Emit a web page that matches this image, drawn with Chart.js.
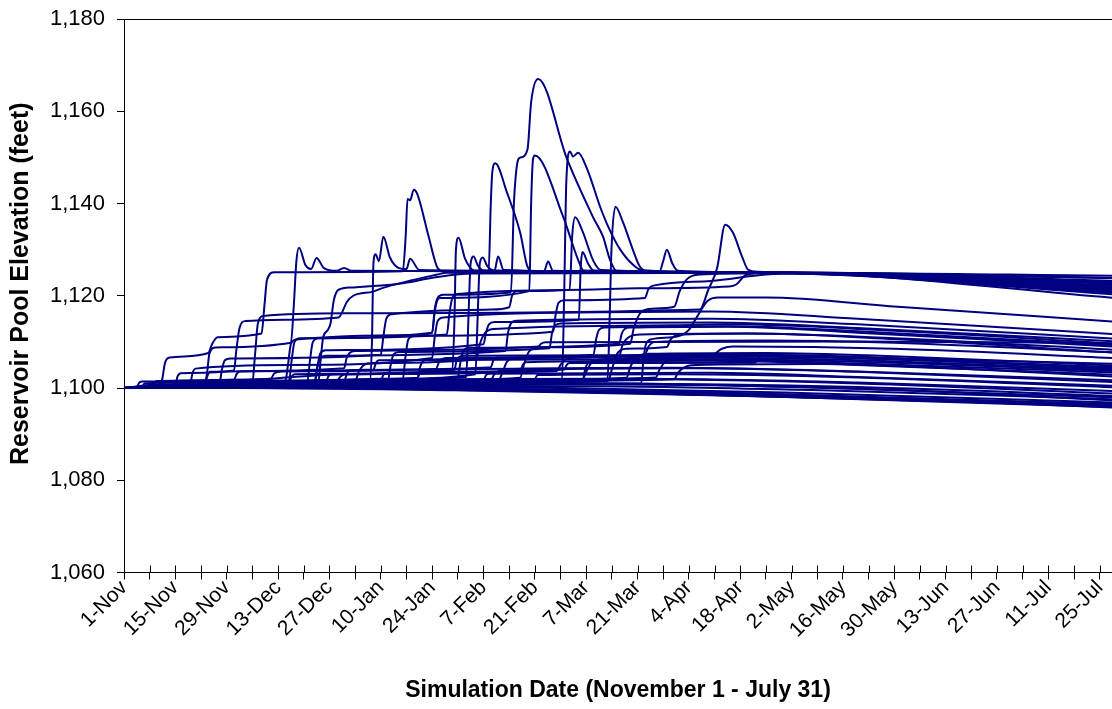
<!DOCTYPE html>
<html>
<head>
<meta charset="utf-8">
<script src="https://cdn.jsdelivr.net/npm/chart.js@4.4.1/dist/chart.umd.min.js"></script>
<style>
  html, body { margin: 0; padding: 0; background: #ffffff; overflow: hidden; }
  #wrap { position: relative; width: 1112px; height: 709px; }
</style>
</head>
<body>
<div id="wrap"><canvas id="c"></canvas></div>
<script>
// ---- tick labels (every 14 days starting 1-Nov) ----
const xTickLabels = ['1-Nov','15-Nov','29-Nov','13-Dec','27-Dec','10-Jan','24-Jan','7-Feb','21-Feb','7-Mar',
  '21-Mar','4-Apr','18-Apr','2-May','16-May','30-May','13-Jun','27-Jun','11-Jul','25-Jul'];
const yTickValues = [1060, 1080, 1100, 1120, 1140, 1160, 1180];

// ---- series: [day since 1-Nov, elevation ft] ----
// reaching full pool (~1125)
const f01 = [[0,1100],[9,1100.6],[10.3,1101.5],[11.2,1105.5],[12.5,1106.6],[23,1107.6],[24,1109.5],[25.5,1111],[37.5,1111.8],[38.3,1118],[39,1123.5],[41,1125.1],[76,1125.3],[76.8,1133],[77.3,1141],[78,1140.7],[79,1143],[80,1142],[83,1133],[85.5,1126],[87,1125.3],[175,1125.1],[272,1123.2]];
const f02 = [[0,1100],[10,1100.8],[22,1101.4],[22.6,1103],[23.3,1107.5],[25,1108.8],[45.5,1109.8],[46.3,1118],[47,1127.5],[47.7,1130.4],[49.5,1126.6],[51,1125.8],[52.5,1128.2],[54.5,1126],[58,1125.4],[60,1126],[62,1125.4],[99.4,1125.3],[100,1140],[100.4,1146.7],[101.2,1148.7],[104.4,1142.4],[108,1133.7],[110,1126.3],[111.5,1125.3],[175,1125],[272,1121.5]];
const f03 = [[0,1100],[30,1100.5],[67,1101.3],[67.6,1110],[68,1127],[68.6,1129],[69.5,1127.5],[70.7,1132.8],[72.5,1128.3],[75,1126],[77,1125.8],[78,1128],[80.5,1125.6],[146,1125.3],[147,1127.5],[148,1130],[149.5,1127],[151,1125.4],[178,1125],[272,1119.4]];
const f04 = [[0,1100],[20,1100.8],[40,1102],[60,1103],[89.5,1103.6],[90.1,1115],[90.5,1130],[91.2,1132.6],[93,1128],[95.5,1125.5],[101,1125.4],[102,1128.5],[103.5,1125.6],[175,1125],[272,1122.5]];
const f05 = [[0,1100],[30,1100.6],[60,1101.8],[93.3,1102.4],[93.9,1115],[94.5,1127],[95.3,1128.5],[96.5,1126.5],[98,1125.5],[114.5,1125.3],[115.6,1127.4],[117,1125.4],[175,1125.1],[272,1123.8]];
const f06 = [[0,1100],[40,1100.8],[70,1102],[95.8,1103],[96.4,1115],[97,1127],[97.8,1128.3],[99,1126.5],[101,1125.5],[175,1125],[272,1122.8]];
const f08 = [[0,1100],[25,1100.8],[45,1101.6],[45.7,1106],[46.5,1110],[48,1110.8],[84,1112],[84.7,1117],[85.5,1119.5],[87,1120.2],[105.5,1120.7],[106.3,1140],[106.8,1146],[107.5,1149.6],[108.2,1150],[110,1151.7],[111,1162],[112.9,1167],[120.8,1149.6],[127.9,1137],[130.6,1132.8],[132.5,1127.8],[134.4,1125.3],[140,1125.1],[175,1125],[272,1120.2]];
const f09 = [[0,1100],[15,1100.5],[44,1101.5],[44.7,1105],[45.5,1109.5],[47,1110.5],[80,1111.5],[84,1112],[84.8,1117],[86,1119.5],[110.5,1121],[111,1140],[111.5,1149.5],[112,1150.4],[119.7,1137.2],[123.8,1127.8],[125.3,1125.5],[175,1125],[272,1121]];
const f10 = [[0,1100],[30,1100.4],[60,1100.9],[100,1101.3],[119.4,1101.5],[120,1120],[120.6,1145],[121.6,1151.3],[122.4,1150.2],[123.8,1151],[126.3,1147.4],[129.8,1139.3],[132,1135],[135.3,1130],[139.4,1126.3],[142,1125.4],[178,1125],[272,1122.2]];
const f11 = [[0,1100],[12,1100.5],[26,1101],[26.7,1104],[27.5,1106],[29,1106.4],[70,1107.2],[70.7,1111],[71.5,1115],[73,1116],[100,1117],[105,1117.5],[105.8,1120],[107,1121],[121.5,1121.3],[122.2,1133],[123,1137],[125,1134],[128,1127.5],[130,1125.6],[175,1125],[272,1120.8]];
const f12 = [[0,1100],[25,1100.6],[52,1101.2],[52.7,1104.5],[53.5,1107.5],[55,1108.2],[98,1109.5],[98.7,1112],[99.5,1113.8],[101,1114.3],[124,1114.8],[124.5,1126],[125,1129.5],[126.5,1127],[128,1125.5],[175,1125],[272,1121.7]];
const f13 = [[0,1100],[40,1100.6],[100,1101.2],[131.8,1101.5],[132.4,1115],[132.9,1130],[134,1139.3],[136,1136],[138.5,1130.5],[140.5,1126.5],[142,1125.5],[178,1125],[272,1123]];
const f14 = [[0,1100],[20,1100.6],[35,1101.2],[35.7,1107],[36.5,1114],[38,1115.6],[60,1116.2],[157,1117],[159.3,1121.3],[161.7,1126],[163.9,1135.4],[166,1133.7],[168.5,1128.5],[170.2,1125.6],[173,1125.2],[185,1125],[272,1122]];
const f15 = [[0,1100],[14,1100.6],[14.6,1102.5],[15.5,1103.2],[30,1103.8],[30.6,1108],[31.5,1113],[33,1114.5],[58.5,1115.3],[60.8,1118.7],[62.5,1120],[67.9,1120.9],[70.6,1121.7],[85.4,1124.6],[88,1125],[178,1125],[272,1123.8]];
const f16 = [[0,1100],[20,1100.5],[53,1101.2],[53.6,1106],[54.3,1111],[55.5,1112.5],[56.3,1114],[57.2,1119],[58.5,1121.3],[62,1121.8],[75,1122.6],[85,1124],[95,1124.8],[180,1125],[272,1124.3]];
const f17 = [[0,1100],[32,1100.8],[50,1101.4],[50.7,1106],[51.5,1110],[53,1110.8],[88,1111.6],[88.7,1116],[89.5,1119.5],[91,1120.4],[125,1121.3],[140,1121.6],[165,1122],[167,1122.5],[169.5,1124.5],[175,1125],[190,1124.9],[272,1121.2]];
const f18 = [[0,1100],[38,1100.8],[76,1101.8],[76.7,1106.5],[77.5,1110.5],[79,1111.3],[117,1112.2],[117.7,1116],[118.5,1118.5],[120,1119],[142,1119.5],[143,1121.5],[145,1122.3],[160,1123.2],[175,1124.6],[185,1124.8],[272,1122.8]];
const f19 = [[0,1100],[20,1100.6],[75,1101.6],[108,1102.2],[109,1105],[110.5,1108],[113,1108.8],[138,1109.6],[139,1113],[141,1116.5],[144,1117.2],[150,1117.6],[151.5,1121],[153.5,1123.6],[157,1124.6],[175,1124.9],[272,1120.6]];
// middle levels
const m01 = [[0,1100],[45,1100.6],[100,1100.9],[141,1101],[141.6,1106],[142.3,1109.5],[144,1110.6],[151,1111.2],[154,1112.6],[156.5,1115.8],[159,1118.8],[162,1119.6],[175,1119.6],[211,1117.6],[272,1114.3]];
const m02 = [[0,1100],[18,1100.6],[18.6,1103],[19.5,1104.2],[45,1105],[84,1106.5],[84.7,1111],[85.5,1114.5],[87,1115.3],[130,1116.4],[160,1116.6],[200,1115],[272,1111.6]];
const m03 = [[0,1100],[28,1100.7],[52,1101.4],[52.7,1104.5],[53.5,1106.5],[55,1107],[104,1108],[104.7,1112],[105.5,1114],[107,1114.6],[160,1115],[200,1113.8],[272,1110.6]];
const m04 = [[0,1100],[35,1100.8],[72,1101.8],[72.7,1105],[73.5,1107.3],[75,1107.8],[116,1108.6],[116.7,1112],[117.5,1113.5],[119,1114],[160,1114.2],[200,1113],[272,1110]];
const m05 = [[0,1100],[40,1100.9],[80,1102],[80.7,1104.5],[81.5,1105.8],[83,1106.2],[128,1107.2],[128.7,1110.5],[129.5,1112.6],[131,1113.1],[165,1113.4],[200,1112.3],[272,1109.2]];
const m06 = [[0,1100],[45,1101],[91,1102.2],[91.7,1105.5],[92.5,1108],[94,1108.7],[135,1109.6],[135.7,1111.8],[136.5,1112.8],[138,1113.1],[165,1113.3],[200,1112],[272,1108.9]];
const m07 = [[0,1100],[22,1100.6],[22.7,1102.5],[23.5,1103.5],[60,1104.3],[60.7,1106.5],[61.5,1107.6],[63,1108],[113,1109],[113.7,1109.6],[115,1109.9],[200,1110.1],[272,1109.7]];
const m08 = [[0,1100],[20,1100.4],[60,1101],[132,1101.6],[133,1104],[134.5,1107.5],[137,1108.5],[148,1108.9],[149,1110.5],[151,1111.5],[170,1111.8],[210,1110.8],[272,1108.2]];
const m09 = [[0,1100],[8,1100.5],[8.8,1101.5],[40,1102],[41,1103.2],[43,1103.6],[85,1104.1],[86,1105.8],[88,1106.5],[135,1107],[136,1109.5],[138,1111.2],[141,1111.6],[170,1111.8],[210,1110.6],[272,1107.6]];
const m10 = [[0,1100],[35,1100.8],[63,1101.5],[64,1103.5],[65.5,1105],[68,1105.4],[96,1106.2],[97,1109.5],[98.5,1112],[101,1112.8],[150,1113.6],[165,1113.8],[210,1112.4],[272,1109.5]];
const m11 = [[0,1100],[42,1100.7],[102,1101.5],[103,1103],[104.5,1105.8],[107,1106.5],[142,1107.2],[143,1109],[145,1110],[175,1110.3],[210,1109.8],[272,1107.6]];
// low levels
const l01 = [[0,1100],[15,1100.5],[45,1101.2],[45.7,1102.5],[46.5,1103],[90,1103.8],[90.7,1106],[91.5,1106.8],[93,1107],[165,1107.2],[200,1106.6],[272,1105.2]];
const l02 = [[0,1100],[20,1100.6],[60,1101.3],[60.7,1103],[61.5,1103.8],[100,1104.5],[100.7,1106],[101.5,1106.6],[170,1107],[174,1107.2],[200,1106.5],[272,1104.5]];
const l03 = [[0,1100],[25,1100.6],[70,1101.5],[70.7,1102.8],[71.5,1103.3],[120,1104],[120.7,1105],[121.5,1105.4],[172,1105.5],[173.5,1106.8],[176,1107.1],[200,1106.8],[272,1104.2]];
const l04 = [[0,1100],[30,1100.7],[55,1101.3],[55.7,1102.5],[56.5,1103],[108,1103.6],[108.7,1105],[109.5,1105.6],[160,1105.9],[200,1105],[272,1102.8]];
const l05 = [[0,1100],[10,1100.5],[10.6,1101.2],[40,1101.6],[80,1102.2],[80.7,1103.3],[81.5,1103.8],[150,1104.4],[200,1103.6],[272,1101.6]];
const l06 = [[0,1100],[35,1100.7],[98,1101.7],[98.7,1102.8],[99.5,1103.1],[160,1103.3],[200,1102.4],[272,1100.4]];
const l07 = [[0,1100],[5,1100.4],[5.6,1101],[50,1101.5],[140,1102],[200,1101.2],[272,1099.3]];
const l08 = [[0,1100],[65,1100.8],[65.7,1101.6],[130,1102],[200,1101],[272,1098.7]];
const l09 = [[0,1100],[28,1100.6],[28.6,1101.4],[112,1101.9],[112.7,1102.8],[150,1103],[200,1102.3],[272,1100.1]];
const l10 = [[0,1100],[50,1100.9],[125,1101.4],[125.7,1104],[126.5,1105.4],[128,1105.8],[165,1106],[200,1105.3],[272,1103.3]];
const l11 = [[0,1100],[3.5,1100.3],[4.2,1101.2],[5,1101.4],[30,1101.8],[30.7,1103],[31.5,1103.6],[68,1104],[68.7,1105.5],[69.5,1106],[150,1106.3],[200,1105.7],[272,1103.6]];
const l12 = [[0,1100],[30,1100.5],[70,1101.2],[125,1101.8],[126,1103.5],[127.5,1105.5],[130,1106.2],[150,1106.6],[200,1106],[272,1103.8]];
const l13 = [[0,1100],[40,1100.6],[90,1101.4],[137,1102.2],[138,1104.5],[140,1106.8],[143,1107.4],[175,1107.6],[210,1106.9],[272,1104.8]];
const l14 = [[0,1100],[25,1100.5],[80,1101.5],[145,1102.3],[146,1104],[148,1106],[151,1106.8],[160,1107],[163,1108.5],[166,1109],[210,1108.5],[272,1106.4]];
const l15 = [[0,1100],[15,1100.3],[15.8,1101],[58,1101.5],[59,1102.5],[60.5,1103],[118,1103.7],[119,1105],[120.5,1106.2],[124,1106.6],[155,1106.9],[210,1106.2],[272,1104.1]];
const l16 = [[0,1100],[48,1100.7],[110,1101.5],[150,1101.9],[151,1103.3],[153,1104.6],[156,1105],[190,1105.2],[230,1104.1],[272,1102.4]];
const l17 = [[0,1100],[55,1100.9],[100,1101.7],[101,1103],[103,1103.8],[155,1104.3],[200,1103.5],[272,1101.2]];
const l18 = [[0,1100],[18,1100.3],[50,1100.6],[130,1100.9],[200,1100.2],[272,1098.2]];
// bottom (dry) traces
const b01 = [[0,1100],[40,1100.2],[100,1099.7],[160,1098.8],[272,1096.2]];
const b02 = [[0,1100],[50,1100.1],[110,1099.4],[170,1098.3],[272,1095.8]];
const b03 = [[0,1100],[60,1100.3],[120,1100],[180,1099],[272,1096.8]];
const b04 = [[0,1100],[30,1100],[90,1099.5],[150,1098.6],[272,1096.5]];
const b05 = [[0,1100],[70,1100.5],[130,1100.4],[190,1099.5],[272,1097.5]];
const b06 = [[0,1100],[45,1100.3],[85,1100.6],[85.7,1101.2],[140,1101],[200,1099.8],[272,1097.9]];
const b07 = [[0,1100],[20,1100.1],[75,1099.8],[140,1098.9],[272,1096]];
const b08 = [[0,1100],[35,1100.2],[105,1100.4],[105.7,1101],[160,1100.6],[210,1099.6],[272,1097.2]];
const b09 = [[0,1100],[25,1100.1],[90,1099.9],[160,1099.1],[272,1096.4]];
const b10 = [[0,1100],[60,1100.2],[120,1099.6],[180,1098.6],[272,1095.7]];

const allSeries = [b01,b02,b03,b04,b05,b06,b07,b08,b09,b10,
  l01,l02,l03,l04,l05,l06,l07,l08,l09,l10,l11,l12,l13,l14,l15,l16,l17,l18,
  m01,m02,m03,m04,m05,m06,m07,m08,m09,m10,m11,
  f01,f02,f03,f04,f05,f06,f08,f09,f10,f11,f12,f13,f14,f15,f16,f17,f18,f19];

const FONT = "'Liberation Sans', Arial, sans-serif";
const dayTicks = [];
for (let i = 0; i < xTickLabels.length * 2 - 1; i++) dayTicks.push(i * 7);

const datasets = allSeries.map((s, i) => ({
  label: 'Trace ' + (i + 1),
  data: s.map(p => ({ x: p[0], y: p[1] })),
  borderColor: '#000080',
  borderWidth: 2,
  pointRadius: 0,
  fill: false,
  cubicInterpolationMode: 'monotone'
}));

const framePlugin = {
  id: 'frame',
  afterDatasetsDraw(chart) {
    const { ctx, chartArea: a, scales: { x } } = chart;
    ctx.save();
    ctx.strokeStyle = '#000';
    ctx.lineWidth = 1;
    ctx.beginPath();
    ctx.moveTo(a.left, a.top + 0.5);
    ctx.lineTo(a.right, a.top + 0.5);
    x.ticks.forEach(t => {
      const px = Math.round(x.getPixelForValue(t.value)) + 0.5;
      ctx.moveTo(px, a.bottom);
      ctx.lineTo(px, a.bottom - 7);
    });
    ctx.stroke();
    ctx.restore();
  }
};

// shift the y-axis title slightly upward, as in the reference
function patchYTitle(s) {
  if (s._titlePatched) return;
  const orig = s.drawTitle.bind(s);
  s.drawTitle = function () {
    s.ctx.save();
    s.ctx.translate(0, -12);
    orig();
    s.ctx.restore();
  };
  s._titlePatched = true;
}

new Chart(document.getElementById('c'), {
  type: 'line',
  data: { datasets },
  plugins: [framePlugin],
  options: {
    responsive: true,
    maintainAspectRatio: false,
    animation: false,
    devicePixelRatio: 1,
    layout: { padding: { top: 19, right: 0, left: 0, bottom: 0 } },
    plugins: { legend: { display: false }, tooltip: { enabled: false } },
    scales: {
      x: {
        type: 'linear',
        min: 0,
        max: 269.36,
        afterBuildTicks: s => { s.ticks = dayTicks.map(v => ({ value: v })); },
        afterFit: s => { s.height = 136.5; s.paddingLeft = 0; s.paddingRight = 0; },
        ticks: {
          autoSkip: false, minRotation: 45, maxRotation: 45, padding: -4,
          color: '#000', font: { family: FONT, size: 21 },
          callback: v => (v % 14 === 0 ? xTickLabels[v / 14] : '')
        },
        grid: { drawOnChartArea: false, drawTicks: true, tickLength: 7, color: '#000' },
        border: { display: true, color: '#000', width: 1 },
        title: {
          display: true, text: 'Simulation Date (November 1 - July 31)', color: '#000',
          font: { family: FONT, size: 23, weight: 'bold' }, padding: { top: 4, bottom: 5 }
        }
      },
      y: {
        type: 'linear',
        min: 1060,
        max: 1180,
        afterBuildTicks: s => { s.ticks = yTickValues.map(v => ({ value: v })); },
        afterFit: s => { s.width = 124; s.paddingTop = 0; s.paddingBottom = 0; patchYTitle(s); },
        ticks: {
          padding: 12, color: '#000', font: { family: FONT, size: 22 },
          callback: v => v.toLocaleString('en-US')
        },
        grid: { drawOnChartArea: false, drawTicks: true, tickLength: 7, color: '#000' },
        border: { display: true, color: '#000', width: 1 },
        title: {
          display: true, text: 'Reservoir Pool Elevation (feet)', color: '#000',
          font: { family: FONT, size: 25, weight: 'bold' }, padding: { top: 6, bottom: 4 }
        }
      }
    }
  }
});
</script>
</body>
</html>
